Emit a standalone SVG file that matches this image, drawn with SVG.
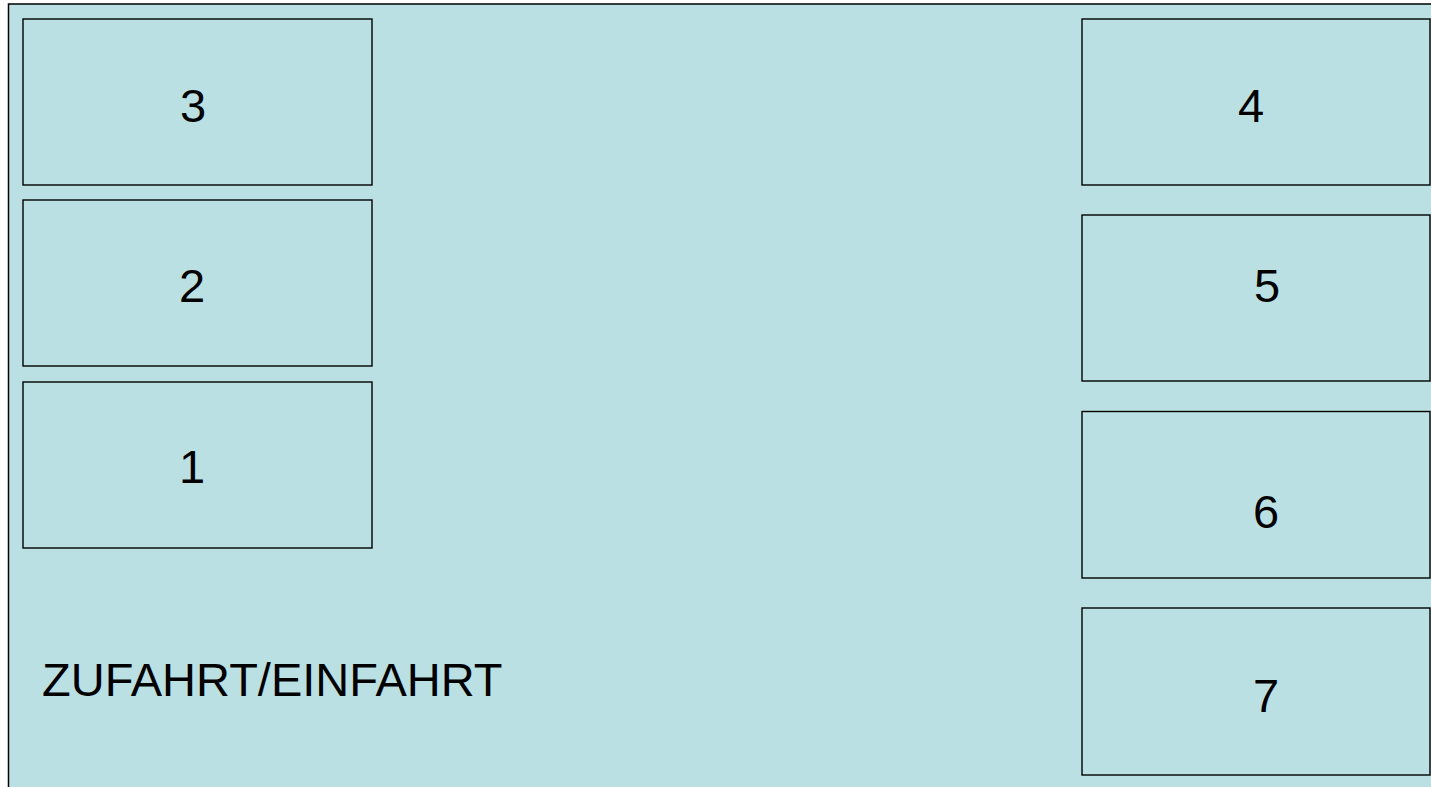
<svg xmlns="http://www.w3.org/2000/svg" width="1431" height="787" viewBox="0 0 1431 787">
<style>
.bg{fill:#BBE0E3;stroke:#000;stroke-width:1.5}
.box{fill:#BBE0E3;stroke:#000;stroke-width:1.4}
.lbl{font-family:"Liberation Sans",Arial,sans-serif;font-size:47px;fill:#000}
.c{text-anchor:middle}
</style>
<rect width="1431" height="787" fill="#fff"/>
<rect id="area" class="bg" x="8.5" y="4" width="1430" height="790"/>
<g id="connectors"/>
<g id="n3"><rect class="box" x="23" y="19" width="349" height="166"/><text class="lbl c" x="193" y="122">3</text></g>
<g id="n2"><rect class="box" x="23" y="200" width="349" height="166"/><text class="lbl c" x="192" y="302">2</text></g>
<g id="n1"><rect class="box" x="23" y="382" width="349" height="166"/><text class="lbl c" x="192" y="483">1</text></g>
<g id="n4"><rect class="box" x="1082" y="19" width="348" height="166"/><text class="lbl c" x="1251" y="122">4</text></g>
<g id="n5"><rect class="box" x="1082" y="215" width="348" height="166"/><text class="lbl c" x="1267" y="302">5</text></g>
<g id="n6"><rect class="box" x="1082" y="411.5" width="348" height="166.5"/><text class="lbl c" x="1266" y="528">6</text></g>
<g id="n7"><rect class="box" x="1082" y="608" width="348" height="167"/><text class="lbl c" x="1266" y="712">7</text></g>
<g id="entry"><text class="lbl" x="42" y="696">ZUFAHRT/EINFAHRT</text></g>
</svg>
